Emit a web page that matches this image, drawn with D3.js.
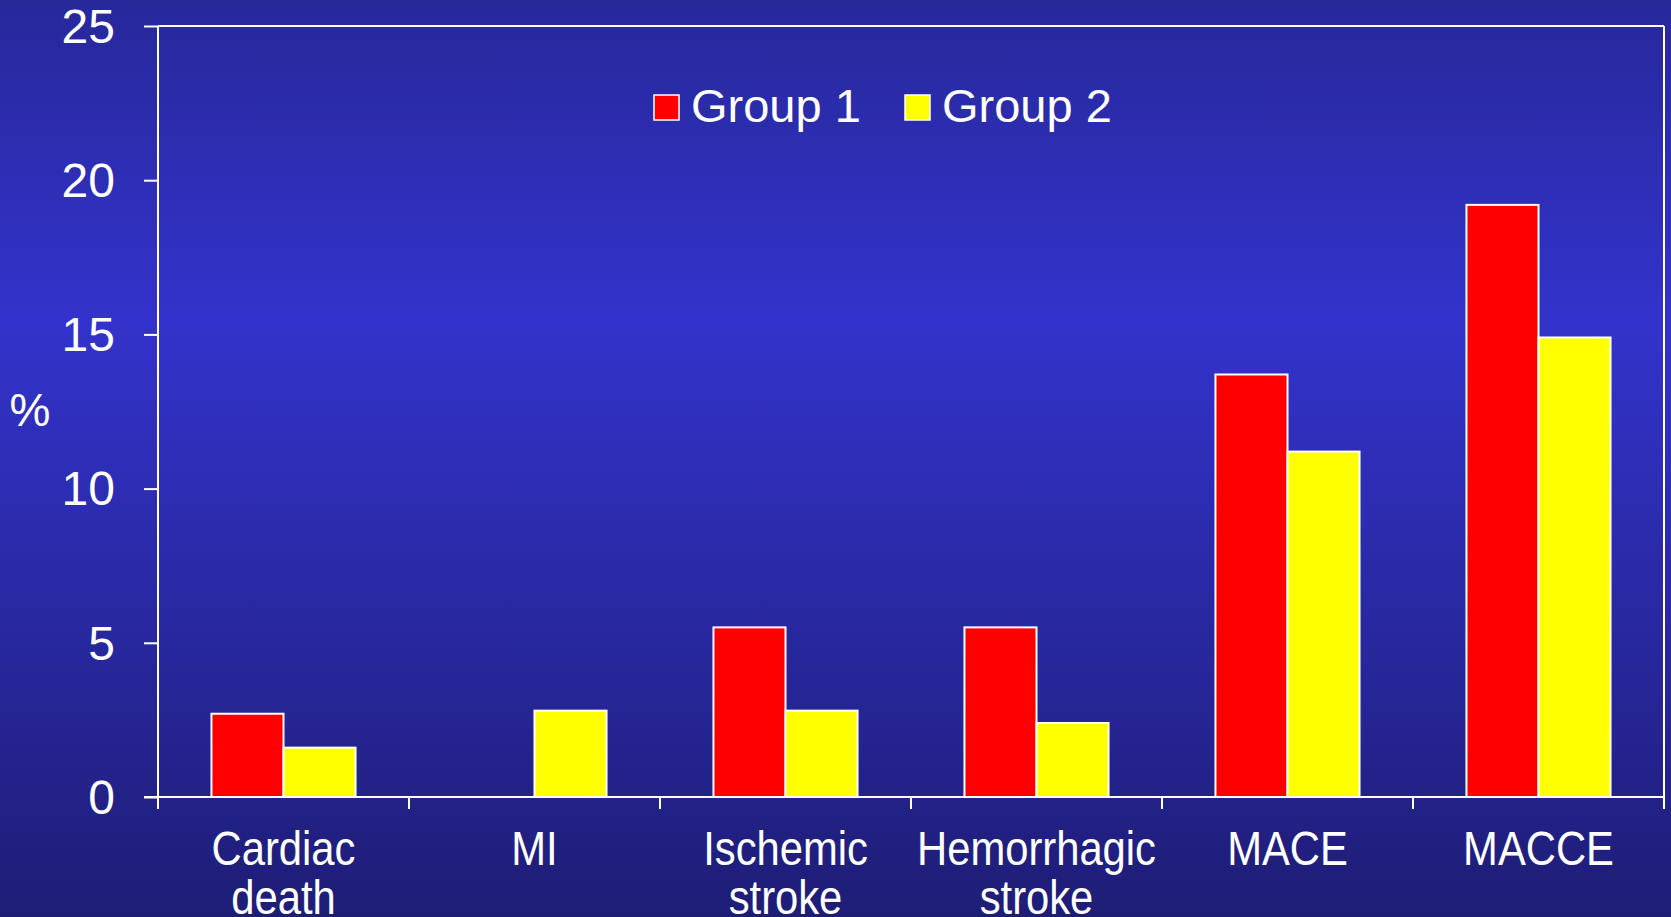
<!DOCTYPE html>
<html>
<head>
<meta charset="utf-8">
<script src="https://cdn.jsdelivr.net/npm/d3@7"></script>
<style>
  html, body { margin: 0; padding: 0; overflow: hidden; }
  svg { display: block; font-family: "Liberation Sans", Arial, sans-serif; }
</style>
</head>
<body>
<div id="chart"></div>
<script>
// data
let categories = [['Cardiac', 'death'], ['MI'], ['Ischemic', 'stroke'], ['Hemorrhagic', 'stroke'], ['MACE'], ['MACCE']];
let groups = ['Group 1', 'Group 2'];
let group1 = [2.7, 0, 5.5, 5.5, 13.7, 19.2];
let group2 = [1.6, 2.8, 2.8, 2.4, 11.2, 14.9];
let yTicks = [0, 5, 10, 15, 20, 25];
let colors = ['#FF0000', '#FFFF00'];

let width = 1671, height = 917;
let plotLeft = 158, plotRight = 1664, plotTop = 26, plotBottom = 797;

let svg = d3.select('#chart')
    .append('svg')
    .attr('width', width)
    .attr('height', height);

// background gradient
let grad = svg.append('defs').append('linearGradient')
    .attr('id', 'bg')
    .attr('x1', 0).attr('y1', 0).attr('x2', 0).attr('y2', 1);
grad.append('stop').attr('offset', '0%').attr('stop-color', '#27289a');
grad.append('stop').attr('offset', '35%').attr('stop-color', '#3333cc');
grad.append('stop').attr('offset', '100%').attr('stop-color', '#1e1d76');

svg.append('rect')
    .attr('width', width)
    .attr('height', height)
    .attr('fill', 'url(#bg)');

let names = categories.map(d => d.join(' '));

let x0 = d3.scaleBand()
    .domain(names)
    .range([plotLeft, plotRight]);

let bw = x0.bandwidth();
let x1 = d3.scaleBand()
    .domain(groups)
    .range([bw * 0.213, bw * 0.787]);

let y = d3.scaleLinear()
    .domain([0, 25])
    .range([plotBottom, plotTop]);

let rows = names.map((n, i) => ({ name: n, values: [group1[i], group2[i]] }));

// bars
let cat = svg.append('g')
    .selectAll('g')
    .data(rows)
    .join('g')
    .attr('transform', d => 'translate(' + x0(d.name) + ',0)');

cat.selectAll('rect')
    .data(d => d.values.map((v, j) => ({ group: groups[j], value: v, color: colors[j] })).filter(d => d.value > 0))
    .join('rect')
    .attr('x', d => x1(d.group))
    .attr('y', d => y(d.value))
    .attr('width', x1.bandwidth())
    .attr('height', d => y(0) - y(d.value))
    .style('fill', d => d.color)
    .style('stroke', '#fff')
    .style('stroke-width', '2px');

// frame: top and right lines
svg.append('line')
    .attr('x1', plotLeft).attr('x2', plotRight)
    .attr('y1', y(25)).attr('y2', y(25))
    .style('stroke', '#fff').style('stroke-width', '2px');
svg.append('line')
    .attr('x1', plotRight).attr('x2', plotRight)
    .attr('y1', y(25)).attr('y2', y(0))
    .style('stroke', '#fff').style('stroke-width', '2px');

// y axis
let yAxis = svg.append('g')
    .attr('transform', 'translate(' + plotLeft + ',0)')
    .call(d3.axisLeft(y).tickValues(yTicks).tickSize(14).tickPadding(29));
yAxis.select('.domain').attr('d', 'M0,' + plotTop + 'V' + plotBottom);
yAxis.selectAll('path, line').style('stroke', '#fff').style('stroke-width', '2px');
yAxis.selectAll('text')
    .style('fill', '#fff')
    .style('font-size', '48px')
    .style('font-family', '"Liberation Sans", Arial, sans-serif')
    .attr('dy', '0.34em');

// x axis
let xAxis = svg.append('g')
    .attr('transform', 'translate(0,' + plotBottom + ')')
    .call(d3.axisBottom(x0).tickSize(0).tickFormat(''));
xAxis.select('.domain').attr('d', 'M' + (plotLeft - 14) + ',0H' + plotRight);
xAxis.selectAll('path').style('stroke', '#fff').style('stroke-width', '2px');

// x tick marks between categories
let bounds = names.map(n => x0(n)).concat([plotRight]);
svg.append('g')
    .selectAll('line')
    .data(bounds)
    .join('line')
    .attr('x1', d => d).attr('x2', d => d)
    .attr('y1', plotBottom).attr('y2', plotBottom + 12)
    .style('stroke', '#fff').style('stroke-width', '2px');

// category labels
let labels = svg.append('g')
    .selectAll('text')
    .data(categories)
    .join('text')
    .attr('transform', (d, i) => 'translate(' + (x0(names[i]) + bw / 2) + ',865) scale(0.87,1)')
    .style('fill', '#fff')
    .style('font-size', '48px')
    .style('text-anchor', 'middle');

labels.selectAll('tspan')
    .data(d => d)
    .join('tspan')
    .attr('x', 0)
    .attr('dy', (d, i) => i === 0 ? 0 : 49)
    .text(d => d);

// y title
svg.append('text')
    .attr('x', 30)
    .attr('y', 426)
    .style('fill', '#fff')
    .style('font-size', '46px')
    .style('text-anchor', 'middle')
    .text('%');

// legend
let legend = svg.append('g')
    .selectAll('g')
    .data(groups)
    .join('g')
    .attr('transform', (d, i) => 'translate(' + (654 + i * 251) + ',95)');

legend.append('rect')
    .attr('width', 25)
    .attr('height', 25)
    .style('fill', (d, i) => colors[i])
    .style('stroke', '#fff')
    .style('stroke-width', '1.5px');

legend.append('text')
    .attr('x', 37)
    .attr('y', 27)
    .style('fill', '#fff')
    .style('font-size', '47px')
    .text(d => d);
</script>
</body>
</html>
